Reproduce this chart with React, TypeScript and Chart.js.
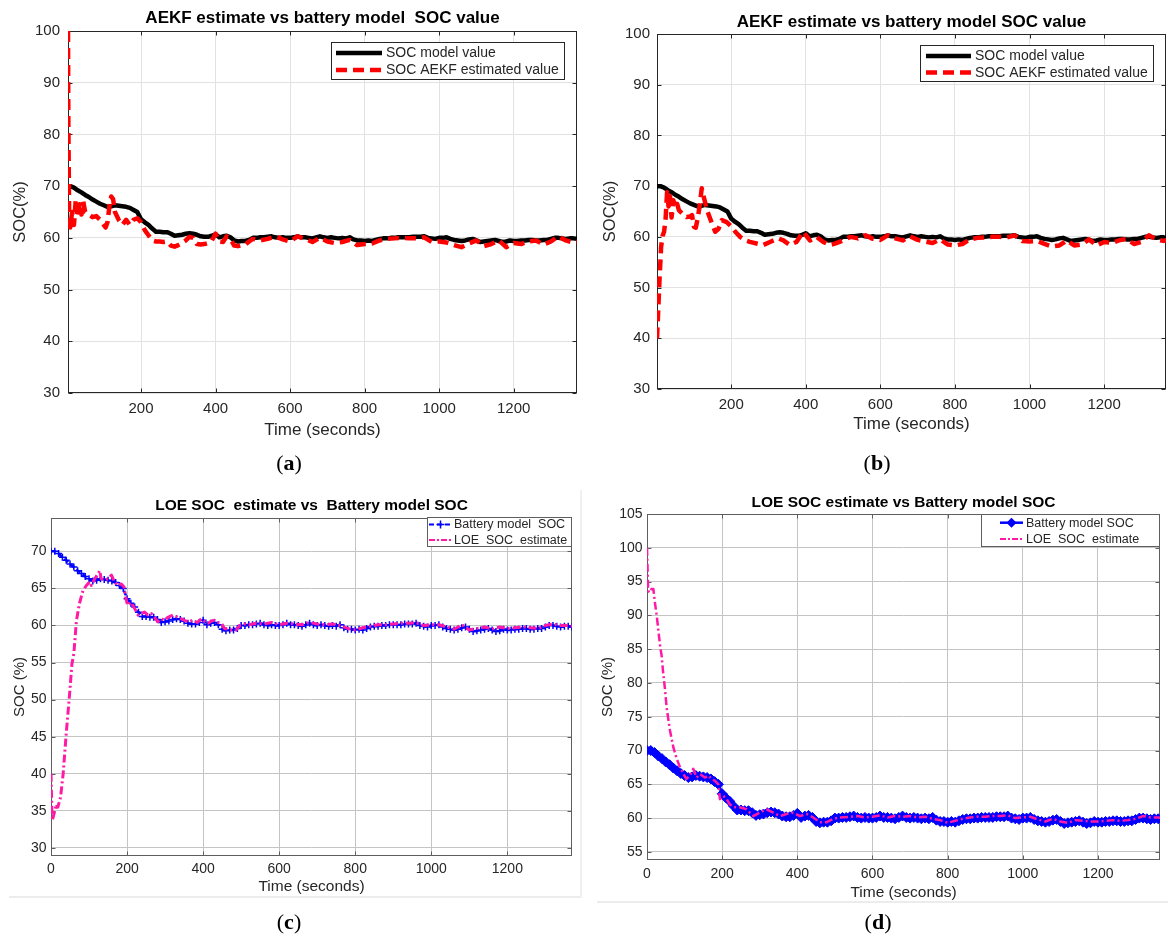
import React, { useEffect, useRef } from "react";
import { Chart, registerables } from "chart.js";

Chart.register(...registerables);

// ---------------- DATA ----------------
// time axis (seconds) of the battery model SOC
const T_MODEL = [
  0, 10, 20, 30, 40, 50, 60, 70, 80, 90,
  100, 110, 120, 130, 140, 150, 160, 170, 180, 190,
  200, 210, 220, 230, 240, 250, 260, 270, 280, 290,
  300, 310, 320, 330, 340, 350, 360, 370, 380, 390,
  400, 410, 420, 430, 440, 450, 460, 470, 480, 490,
  500, 510, 520, 530, 540, 550, 560, 570, 580, 590,
  600, 610, 620, 630, 640, 650, 660, 670, 680, 690,
  700, 710, 720, 730, 740, 750, 760, 770, 780, 790,
  800, 810, 820, 830, 840, 850, 860, 870, 880, 890,
  900, 910, 920, 930, 940, 950, 960, 970, 980, 990,
  1000, 1010, 1020, 1030, 1040, 1050, 1060, 1070, 1080, 1090,
  1100, 1110, 1120, 1130, 1140, 1150, 1160, 1170, 1180, 1190,
  1200, 1210, 1220, 1230, 1240, 1250, 1260, 1270, 1280, 1290,
  1300, 1310, 1320, 1330, 1340, 1350, 1360, 1370,
];
// battery model SOC (%)
const SOC_MODEL = [
  70, 70, 69.7, 69.2, 68.8, 68.3, 67.9, 67.4, 67.0, 66.6,
  66.3, 66.0, 66.1, 66.3, 66.2, 66.1, 66.0, 65.8, 65.4, 65.0,
  63.6, 63.0, 62.5, 61.8, 61.2, 61.2, 61.1, 61.1, 60.8, 60.4,
  60.5, 60.6, 60.8, 60.9, 60.8, 60.6, 60.3, 60.2, 60.2, 60.4,
  60.7, 60.1, 60.3, 60.4, 60.1, 59.5, 59.3, 59.4, 59.4, 59.6,
  60.0, 60.0, 60.1, 60.1, 60.2, 60.3, 60.1, 60.0, 60.1, 60.0,
  60.0, 60.1, 60.3, 60.1, 60.1, 60.0, 59.9, 60.1, 60.3, 60.1,
  60.0, 60.1, 60.0, 59.9, 60.0, 59.9, 60.1, 59.7, 59.5, 59.5,
  59.4, 59.5, 59.4, 59.6, 59.8, 59.9, 59.9, 60.0, 60.0, 60.1,
  60.1, 60.1, 60.1, 60.2, 60.2, 60.2, 60.3, 60.0, 59.9, 59.8,
  60.0, 60.0, 60.1, 59.8, 59.6, 59.5, 59.4, 59.5, 59.7, 59.8,
  59.5, 59.2, 59.3, 59.4, 59.5, 59.6, 59.4, 59.2, 59.3, 59.5,
  59.4, 59.4, 59.5, 59.5, 59.6, 59.6, 59.5, 59.5, 59.6, 59.6,
  59.8, 60.0, 60.0, 59.9, 59.8, 59.9, 59.9, 59.8,
];

// (a) AEKF estimate, initial SOC 100 %
const T_AEKF_A = [
  4, 5, 7, 10, 15, 20, 25, 30, 35, 40,
  45, 50, 60, 70, 80, 90, 100, 105, 110, 115,
  120, 125, 130, 140, 150, 160, 170, 180, 190, 200,
  210, 220, 230, 240, 250, 260, 270, 280, 290, 300,
  310, 320, 330, 340, 350, 360, 370, 380, 390, 400,
  410, 420, 430, 440, 450, 460, 470, 480, 490, 500,
  520, 540, 560, 580, 600, 620, 640, 660, 680, 700,
  720, 740, 760, 780, 800, 820, 840, 860, 880, 900,
  920, 940, 960, 980, 1000, 1020, 1040, 1060, 1080, 1100,
  1120, 1140, 1160, 1180, 1200, 1220, 1240, 1260, 1280, 1300,
  1320, 1340, 1360, 1370,
];
const SOC_AEKF_A = [
  100, 82, 65, 62, 65, 62.5, 67.5, 64, 66.5, 64.5,
  67, 65, 64.5, 64, 64.2, 63.5, 62.5, 62, 63, 66,
  68, 67.5, 65, 63.5, 62.5, 63.5, 62.5, 63.5, 63.8, 63,
  61.5, 60.5, 59.5, 59.3, 59.3, 59.2, 59.3, 58.5, 58.3, 58.6,
  59, 59.5, 60.2, 60, 58.8, 58.7, 58.8, 59, 59.5, 60.8,
  59.3, 59.2, 60.3, 59.8, 58.5, 58.4, 58.6, 58.7, 59.3, 59.8,
  59.5, 59.8, 60.3, 59.7, 59.3, 60.3, 59.8, 59.2, 60, 59.3,
  59, 59.2, 59.6, 58.6, 58.8, 58.9, 59.5, 59.8, 59.9, 60,
  59.9, 59.9, 60.1, 59.2, 59.3, 59.1, 58.6, 58.2, 58.9, 59.5,
  58.4, 58.8, 59.5, 58.2, 59, 58.8, 59.3, 59.5, 58.7, 59.3,
  60.3, 59.5, 59.1, 59.2,
];

// (b) AEKF estimate, initial SOC 40 %
const T_AEKF_B = [
  1, 4, 8, 12, 16, 20, 24, 28, 32, 36,
  40, 45, 50, 55, 60, 70, 80, 90, 95, 100,
  105, 110, 115, 121, 126, 135, 145, 157, 166, 175,
  188, 202, 211, 224, 238, 250, 268, 286, 304, 326,
  340, 357, 375, 393, 411, 429, 447, 465, 480, 500,
  520, 540, 560, 580, 600, 620, 640, 660, 680, 700,
  720, 740, 760, 780, 800, 820, 840, 860, 880, 900,
  920, 940, 960, 980, 1000, 1020, 1040, 1060, 1080, 1100,
  1120, 1140, 1160, 1180, 1200, 1220, 1240, 1260, 1280, 1300,
  1320, 1340, 1360, 1370,
];
const SOC_AEKF_B = [
  40, 45, 52, 58, 60.2, 61, 63.5, 68.8, 66, 68,
  63.8, 67.2, 65.8, 66.5, 65.2, 64.5, 63.9, 64, 64.3, 62,
  61.8, 63.6, 65.9, 69.6, 68, 65.3, 63.3, 61, 61.6, 63.3,
  62.9, 61.9, 61, 60, 59.3, 59, 58.7, 58.4, 59, 59.7,
  59.3, 58.4, 59, 61, 59.3, 60, 59, 58.4, 58.7, 59.3,
  60, 59.7, 60.3, 59.6, 59.4, 60.3, 59.7, 59.3, 60.1, 59.4,
  59.1, 58.8, 59.5, 58.5, 58.3, 58.6, 59.5, 59.8, 59.9, 60,
  60, 59.9, 60.3, 59.2, 59.1, 59.2, 58.6, 58.1, 58.3, 59.3,
  58.3, 58.5, 59.5, 58.3, 59, 58.8, 59.3, 59.6, 58.6, 59,
  60.3, 59.5, 59.2, 59.4,
];

// (c) LOE estimate, initial SOC 40 %
const T_LOE_C = [
  0, 3, 6, 10, 14, 18, 25, 32, 40, 49,
  55, 60, 67, 75, 84, 93, 102, 106, 115, 124,
  128, 132, 141, 150, 159, 167, 176, 185, 192, 198,
  202, 211, 220, 229, 237, 246, 255, 264, 272, 281,
  290, 299, 307, 321, 329, 343, 351, 360, 373, 385,
  395, 405, 413, 422, 430, 440, 448, 456, 465, 474,
  487, 496, 509,
  520, 540, 560, 580, 600, 620, 640, 660, 680, 700,
  720, 740, 760, 780, 800, 820, 840, 860, 880, 900,
  920, 940, 960, 980, 1000, 1020, 1040, 1060, 1080, 1100,
  1120, 1140, 1160, 1180, 1200, 1220, 1240, 1260, 1280, 1300,
  1320, 1340, 1360, 1370,
];
const SOC_LOE_C = [
  40, 33.7, 34.2, 35, 35.9, 35.5, 36.8, 40, 45.4, 50.8,
  54.8, 56.2, 60.7, 63, 64.7, 65.4, 65.9, 65.4, 66.3, 67,
  67.4, 66.3, 66.1, 66.3, 66.8, 65.9, 65.4, 65.6, 65.2, 63.4,
  62.7, 63.1, 62.3, 61.4, 61.6, 61.8, 61.4, 61.6, 61.1, 60.5,
  60.9, 60.7, 61.1, 61.4, 61.2, 60.9, 60.7, 60.5, 60.7, 60.4,
  60.9, 60.5, 60.3, 60.6, 60.7, 60.4, 60.3, 59.6, 59.5, 59.4,
  59.4, 60, 60.2,
  60.1, 60.3, 60.2, 60.4, 60.1, 60.3, 60.2, 60.1, 60.4, 60.2,
  60.1, 60.2, 60, 59.6, 59.4, 59.7, 59.9, 60.1, 60.1, 60.2,
  60.3, 60.3, 60.4, 60, 60.1, 60.1, 59.8, 59.5, 60.1, 59.4,
  59.6, 59.8, 59.5, 59.8, 59.6, 59.7, 59.8, 59.7, 59.6, 60,
  60.2, 60, 60, 59.9,
];

// (d) LOE estimate, initial SOC 100 %
const T_LOE_D = [
  0, 3, 8, 12, 17, 21, 26, 30, 35, 39,
  43, 48, 52, 57, 61, 70, 79, 88, 97, 105,
  114, 123, 132, 141, 154, 163, 172, 181, 190, 194,
  203, 212, 221, 230, 247, 265, 283, 300, 318, 336,
  354, 371, 389, 407, 425, 442, 460, 478, 496, 513,
  540, 560, 580, 600, 620, 640, 660, 680, 700, 720,
  740, 760, 780, 800, 820, 840, 860, 880, 900, 920,
  940, 960, 980, 1000, 1020, 1040, 1060, 1080, 1100, 1120,
  1140, 1160, 1180, 1200, 1220, 1240, 1260, 1280, 1300, 1320,
  1340, 1360, 1370,
];
const SOC_LOE_D = [
  100, 93.6, 93.4, 93.9, 93.9, 91.9, 89.9, 87.9, 85.4, 84,
  81.5, 79, 76.5, 74.5, 73, 70.5, 68.8, 67.5, 66.5, 65.8,
  66.3, 67.3, 66, 66.5, 66, 66.3, 65.8, 65.5, 65, 62.8,
  63.3, 62.8, 62, 61.6, 61.6, 61.3, 60.3, 60.8, 61.3, 60.8,
  60.3, 60.6, 60.8, 60.3, 60.6, 60.1, 59.4, 59.4, 59.9, 60.1,
  60.2, 60.3, 60.1, 60.2, 60.4, 60.1, 60.3, 60.2, 60.3, 60.1,
  60.2, 59.9, 59.7, 59.3, 59.6, 59.9, 60.1, 60.2, 60.2, 60.3,
  60.3, 60.4, 60, 60.1, 60.2, 59.8, 59.5, 59.9, 59.5, 59.3,
  59.7, 59.6, 59.5, 59.5, 59.6, 59.7, 59.6, 59.7, 59.9, 60.3,
  60.1, 60.1, 60,
];

// tick values
const X_TICKS_AB = [200, 400, 600, 800, 1000, 1200];
const X_TICKS_CD = [0, 200, 400, 600, 800, 1000, 1200];
const Y_TICKS_AB = [30, 40, 50, 60, 70, 80, 90, 100];
const Y_TICKS_C = [30, 35, 40, 45, 50, 55, 60, 65, 70];
const Y_TICKS_D = [55, 60, 65, 70, 75, 80, 85, 90, 95, 100, 105];

const TITLES = [
  "AEKF estimate vs battery model  SOC value",
  "AEKF estimate vs battery model SOC value",
  "LOE SOC  estimate vs  Battery model SOC",
  "LOE SOC estimate vs Battery model SOC",
];
const LABELS_AEKF = ["SOC model value", "SOC AEKF estimated value"];
const LABELS_LOE_C = ["Battery model  SOC", "LOE  SOC  estimate"];
const LABELS_LOE_D = ["Battery model SOC", "LOE  SOC  estimate"];
const Y_TITLES = ["SOC(%)", "SOC(%)", "SOC (%)", "SOC (%)"];
const X_TITLE = "Time (seconds)";
const CAPTIONS = ["a", "b", "c", "d"];

// ---------------- STYLE / LAYOUT ----------------
const W = 1168;
const H = 936;
const FONT = '"Liberation Sans", Arial, Helvetica, sans-serif';
const TXT = "#262626";
const PINK = "#ff1aa6";
const BLUE = "#0000ff";

type Marker = "none" | "cross" | "diamond";
type LegendSpec = {
  x: number; y: number; w: number; h: number;
  sx0: number; sx1: number; tx: number; rows: number[];
  size: number; border: string;
  items: { lineWidth: number; dash: number[]; marker: Marker }[];
};
type Panel = {
  key: string;
  title: string;
  area: { l: number; t: number; r: number; b: number };
  titleY: number; titleSize: number;
  yTitle: string; yTitleX: number; yTitleSize: number;
  xTitleY: number; xTitleSize: number;
  tickSize: number; yTickPad: number; xTickY: number;
  xMin: number; xMax: number; yMin: number; yMax: number;
  xTicks: number[]; yTicks: number[];
  gridColor: string; frameColor: string; tickLen: number;
  datasets: any[];
  legend: LegendSpec;
};

const pairs = (t: number[], v: number[]) => t.map((x, i) => ({ x, y: v[i] }));

const aekfSets = (est: { t: number[]; v: number[] }) => [
  {
    label: LABELS_AEKF[0], data: pairs(T_MODEL, SOC_MODEL),
    borderColor: "#000000", borderWidth: 4.5, pointRadius: 0, order: 2,
  },
  {
    label: LABELS_AEKF[1], data: pairs(est.t, est.v),
    borderColor: "#ff0000", borderWidth: 4.5, borderDash: [11, 6], pointRadius: 0, order: 1,
  },
];

const PANELS: Panel[] = [
  {
    key: "a", title: TITLES[0],
    area: { l: 68, t: 31, r: 577, b: 393 },
    titleY: 18, titleSize: 17,
    yTitle: Y_TITLES[0], yTitleX: 20.5, yTitleSize: 16.5,
    xTitleY: 430, xTitleSize: 17,
    tickSize: 15, yTickPad: 8, xTickY: 409,
    xMin: 4, xMax: 1370, yMin: 30, yMax: 100,
    xTicks: X_TICKS_AB, yTicks: Y_TICKS_AB,
    gridColor: "#e2e2e2", frameColor: "#262626", tickLen: 4,
    datasets: aekfSets({ t: T_AEKF_A, v: SOC_AEKF_A }),
    legend: {
      x: 331, y: 42, w: 234, h: 38, sx0: 336, sx1: 382, tx: 386, rows: [53, 70],
      size: 14, border: "#262626",
      items: [
        { lineWidth: 4.5, dash: [], marker: "none" },
        { lineWidth: 4.5, dash: [11, 6], marker: "none" },
      ],
    },
  },
  {
    key: "b", title: TITLES[1],
    area: { l: 657, t: 34, r: 1166, b: 389 },
    titleY: 22, titleSize: 17,
    yTitle: Y_TITLES[1], yTitleX: 610, yTitleSize: 16.5,
    xTitleY: 424, xTitleSize: 17,
    tickSize: 15, yTickPad: 7, xTickY: 405,
    xMin: 1, xMax: 1366, yMin: 30, yMax: 100,
    xTicks: X_TICKS_AB, yTicks: Y_TICKS_AB,
    gridColor: "#e2e2e2", frameColor: "#262626", tickLen: 4,
    datasets: aekfSets({ t: T_AEKF_B, v: SOC_AEKF_B }),
    legend: {
      x: 920, y: 45, w: 234, h: 37, sx0: 926, sx1: 971, tx: 975, rows: [56, 72.5],
      size: 14, border: "#262626",
      items: [
        { lineWidth: 4.5, dash: [], marker: "none" },
        { lineWidth: 4.5, dash: [11, 6], marker: "none" },
      ],
    },
  },
  {
    key: "c", title: TITLES[2],
    area: { l: 51, t: 518, r: 572, b: 856 },
    titleY: 506, titleSize: 15.5,
    yTitle: Y_TITLES[2], yTitleX: 20, yTitleSize: 15,
    xTitleY: 887, xTitleSize: 15.5,
    tickSize: 14, yTickPad: 4.5, xTickY: 869,
    xMin: 0, xMax: 1370, yMin: 28.9, yMax: 74.5,
    xTicks: X_TICKS_CD, yTicks: Y_TICKS_C,
    gridColor: "#c4c4c4", frameColor: "#5e5e5e", tickLen: 4,
    datasets: [
      {
        label: LABELS_LOE_C[0], data: pairs(T_MODEL, SOC_MODEL),
        borderColor: BLUE, borderWidth: 2.5, borderDash: [5, 3],
        pointStyle: "cross", pointRadius: 3.5, pointBorderWidth: 1.5,
        pointBorderColor: BLUE, pointBackgroundColor: BLUE, order: 2,
      },
      {
        label: LABELS_LOE_C[1], data: pairs(T_LOE_C, SOC_LOE_C),
        borderColor: PINK, borderWidth: 3, borderDash: [8, 3, 2, 3], pointRadius: 0, order: 1,
      },
    ],
    legend: {
      x: 427, y: 517, w: 145, h: 30, sx0: 429, sx1: 452, tx: 454, rows: [524.5, 540],
      size: 12.5, border: "#5e5e5e",
      items: [
        { lineWidth: 2, dash: [5, 3], marker: "cross" },
        { lineWidth: 2, dash: [6, 2, 2, 2], marker: "none" },
      ],
    },
  },
  {
    key: "d", title: TITLES[3],
    area: { l: 647, t: 514, r: 1160, b: 860 },
    titleY: 503, titleSize: 15.5,
    yTitle: Y_TITLES[3], yTitleX: 608, yTitleSize: 15,
    xTitleY: 893, xTitleSize: 15.5,
    tickSize: 14, yTickPad: 4.5, xTickY: 874,
    xMin: 0, xMax: 1365, yMin: 53.8, yMax: 105,
    xTicks: X_TICKS_CD, yTicks: Y_TICKS_D,
    gridColor: "#c4c4c4", frameColor: "#5e5e5e", tickLen: 4,
    datasets: [
      {
        label: LABELS_LOE_D[0], data: pairs(T_MODEL, SOC_MODEL),
        borderColor: BLUE, borderWidth: 3,
        pointStyle: "rectRot", pointRadius: 5, pointBorderWidth: 1,
        pointBorderColor: BLUE, pointBackgroundColor: BLUE, order: 2,
      },
      {
        label: LABELS_LOE_D[1], data: pairs(T_LOE_D, SOC_LOE_D),
        borderColor: PINK, borderWidth: 2.5, borderDash: [8, 3, 2, 3], pointRadius: 0, order: 1,
      },
    ],
    legend: {
      x: 981, y: 514, w: 179, h: 33, sx0: 1000, sx1: 1023, tx: 1026, rows: [522.7, 539],
      size: 12.5, border: "#5e5e5e",
      items: [
        { lineWidth: 2.5, dash: [], marker: "diamond" },
        { lineWidth: 2, dash: [6, 2, 2, 2], marker: "none" },
      ],
    },
  },
];

function drawMarker(ctx: CanvasRenderingContext2D, m: Marker, x: number, y: number, color: string) {
  ctx.save();
  ctx.setLineDash([]);
  if (m === "cross") {
    ctx.strokeStyle = color;
    ctx.lineWidth = 1.5;
    ctx.beginPath();
    ctx.moveTo(x - 4, y); ctx.lineTo(x + 4, y);
    ctx.moveTo(x, y - 4); ctx.lineTo(x, y + 4);
    ctx.stroke();
  } else if (m === "diamond") {
    ctx.fillStyle = color;
    ctx.beginPath();
    ctx.moveTo(x, y - 5); ctx.lineTo(x + 5, y); ctx.lineTo(x, y + 5); ctx.lineTo(x - 5, y);
    ctx.closePath();
    ctx.fill();
  }
  ctx.restore();
}

function makeOverlay(p: Panel) {
  return {
    id: "overlay_" + p.key,
    beforeDatasetsDraw(chart: any) {
      const { ctx, chartArea: a, scales } = chart;
      ctx.save();
      ctx.strokeStyle = p.frameColor;
      ctx.lineWidth = 1;
      ctx.setLineDash([]);
      const L = Math.round(a.left) + 0.5;
      const R = Math.round(a.right) - 0.5;
      const T = Math.round(a.top) + 0.5;
      const B = Math.round(a.bottom) - 0.5;
      ctx.beginPath();
      scales.x.ticks.forEach((tk: any) => {
        const px = Math.round(scales.x.getPixelForValue(tk.value)) + 0.5;
        ctx.moveTo(px, B); ctx.lineTo(px, B - p.tickLen);
        ctx.moveTo(px, T); ctx.lineTo(px, T + p.tickLen);
      });
      scales.y.ticks.forEach((tk: any) => {
        const py = Math.round(scales.y.getPixelForValue(tk.value)) + 0.5;
        ctx.moveTo(L, py); ctx.lineTo(L + p.tickLen, py);
        ctx.moveTo(R, py); ctx.lineTo(R - p.tickLen, py);
      });
      ctx.stroke();
      ctx.strokeRect(L, T, R - L, B - T);
      ctx.restore();
    },
    afterDraw(chart: any) {
      const lg = p.legend;
      const ctx: CanvasRenderingContext2D = chart.ctx;
      ctx.save();
      ctx.fillStyle = "#ffffff";
      ctx.fillRect(lg.x, lg.y, lg.w, lg.h);
      ctx.strokeStyle = lg.border;
      ctx.lineWidth = 1;
      ctx.setLineDash([]);
      ctx.strokeRect(lg.x + 0.5, lg.y + 0.5, lg.w - 1, lg.h - 1);
      lg.items.forEach((it, i) => {
        const ds = chart.data.datasets[i];
        const yy = lg.rows[i];
        ctx.strokeStyle = ds.borderColor;
        ctx.lineWidth = it.lineWidth;
        ctx.lineCap = "butt";
        ctx.setLineDash(it.dash);
        ctx.beginPath();
        ctx.moveTo(lg.sx0, yy);
        ctx.lineTo(lg.sx1, yy);
        ctx.stroke();
        if (it.marker !== "none") drawMarker(ctx, it.marker, (lg.sx0 + lg.sx1) / 2, yy, ds.borderColor);
        ctx.setLineDash([]);
        ctx.fillStyle = TXT;
        ctx.font = `${lg.size}px ${FONT}`;
        ctx.textAlign = "left";
        ctx.textBaseline = "middle";
        ctx.fillText(ds.label, lg.tx, yy + 0.5);
      });
      ctx.restore();
    },
  };
}

function buildConfig(p: Panel): any {
  const a = p.area;
  const lhT = p.titleSize * 1.2;
  const lhY = p.yTitleSize * 1.2;
  const lhX = p.xTitleSize * 1.2;
  const lhTick = p.tickSize * 1.2;
  const padTop = p.titleY - lhT / 2;
  const titlePadB = a.t - p.titleY - lhT / 2;
  const padLeft = p.yTitleX - lhY / 2;
  const yW = a.l - padLeft;
  const xH = p.xTitleY + lhX / 2 - a.b;
  const padBottom = H - (p.xTitleY + lhX / 2);
  const padRight = W - a.r;
  const xTickPad = p.xTickY - lhTick / 2 - a.b;
  const tickFont = { family: FONT, size: p.tickSize };
  const fmt = (v: any) => String(v);
  return {
    type: "line",
    data: { datasets: p.datasets },
    options: {
      animation: false,
      responsive: false,
      maintainAspectRatio: false,
      devicePixelRatio: 1,
      events: [],
      layout: { padding: { left: padLeft, right: padRight, top: padTop, bottom: padBottom } },
      elements: {
        line: { tension: 0, borderJoinStyle: "round", borderCapStyle: "butt" },
        point: { radius: 0 },
      },
      plugins: {
        legend: { display: false },
        tooltip: { enabled: false },
        title: {
          display: true,
          text: p.title,
          fullSize: false,
          color: "#000000",
          font: { family: FONT, size: p.titleSize, weight: "bold" },
          padding: { top: 0, bottom: titlePadB },
        },
      },
      scales: {
        x: {
          type: "linear",
          position: "bottom",
          min: p.xMin,
          max: p.xMax,
          afterBuildTicks: (s: any) => { s.ticks = p.xTicks.map((v) => ({ value: v })); },
          afterFit: (s: any) => { s.height = xH; },
          ticks: {
            autoSkip: false, maxRotation: 0, callback: fmt,
            padding: xTickPad, color: TXT, font: tickFont,
          },
          grid: { color: p.gridColor, lineWidth: 1, drawTicks: false },
          border: { display: false },
          title: {
            display: true, text: X_TITLE, color: TXT,
            font: { family: FONT, size: p.xTitleSize },
            padding: { top: 0, bottom: 0 },
          },
        },
        y: {
          type: "linear",
          position: "left",
          min: p.yMin,
          max: p.yMax,
          afterBuildTicks: (s: any) => { s.ticks = p.yTicks.map((v) => ({ value: v })); },
          afterFit: (s: any) => { s.width = yW; },
          ticks: {
            autoSkip: false, callback: fmt,
            padding: p.yTickPad, color: TXT, font: tickFont,
          },
          grid: { color: p.gridColor, lineWidth: 1, drawTicks: false },
          border: { display: false },
          title: {
            display: true, text: p.yTitle, color: TXT,
            font: { family: FONT, size: p.yTitleSize },
            padding: { top: 0, bottom: 0 },
          },
        },
      },
    },
    plugins: [makeOverlay(p)],
  };
}

function PanelChart({ p }: { p: Panel }) {
  const ref = useRef<HTMLCanvasElement>(null);
  useEffect(() => {
    if (!ref.current) return;
    const chart = new Chart(ref.current, buildConfig(p));
    return () => chart.destroy();
  }, [p]);
  return (
    <canvas
      ref={ref}
      width={W}
      height={H}
      style={{ position: "absolute", left: 0, top: 0, width: W, height: H }}
    />
  );
}

const CAPTION_POS = [
  { x: 289, y: 463 },
  { x: 877, y: 463 },
  { x: 289, y: 922 },
  { x: 878, y: 922 },
];

export default function App() {
  return (
    <div style={{ position: "absolute", left: 0, top: 0, width: W, height: H, background: "#ffffff", overflow: "hidden" }}>
      {/* faint figure frames around (c) and (d) */}
      <div style={{ position: "absolute", left: 9, top: 896, width: 573, height: 2, background: "#ececec" }} />
      <div style={{ position: "absolute", left: 580, top: 490, width: 2, height: 408, background: "#f0f0f0" }} />
      <div style={{ position: "absolute", left: 597, top: 901, width: 571, height: 2, background: "#ececec" }} />
      {PANELS.map((p) => (
        <PanelChart key={p.key} p={p} />
      ))}
      {CAPTIONS.map((c, i) => (
        <div
          key={c}
          style={{
            position: "absolute",
            left: CAPTION_POS[i].x - 30,
            top: CAPTION_POS[i].y - 13,
            width: 60,
            height: 26,
            lineHeight: "26px",
            textAlign: "center",
            fontFamily: '"Liberation Serif", "DejaVu Serif", serif',
            fontSize: 22,
            color: "#000",
          }}
        >
          (<b>{c}</b>)
        </div>
      ))}
    </div>
  );
}
